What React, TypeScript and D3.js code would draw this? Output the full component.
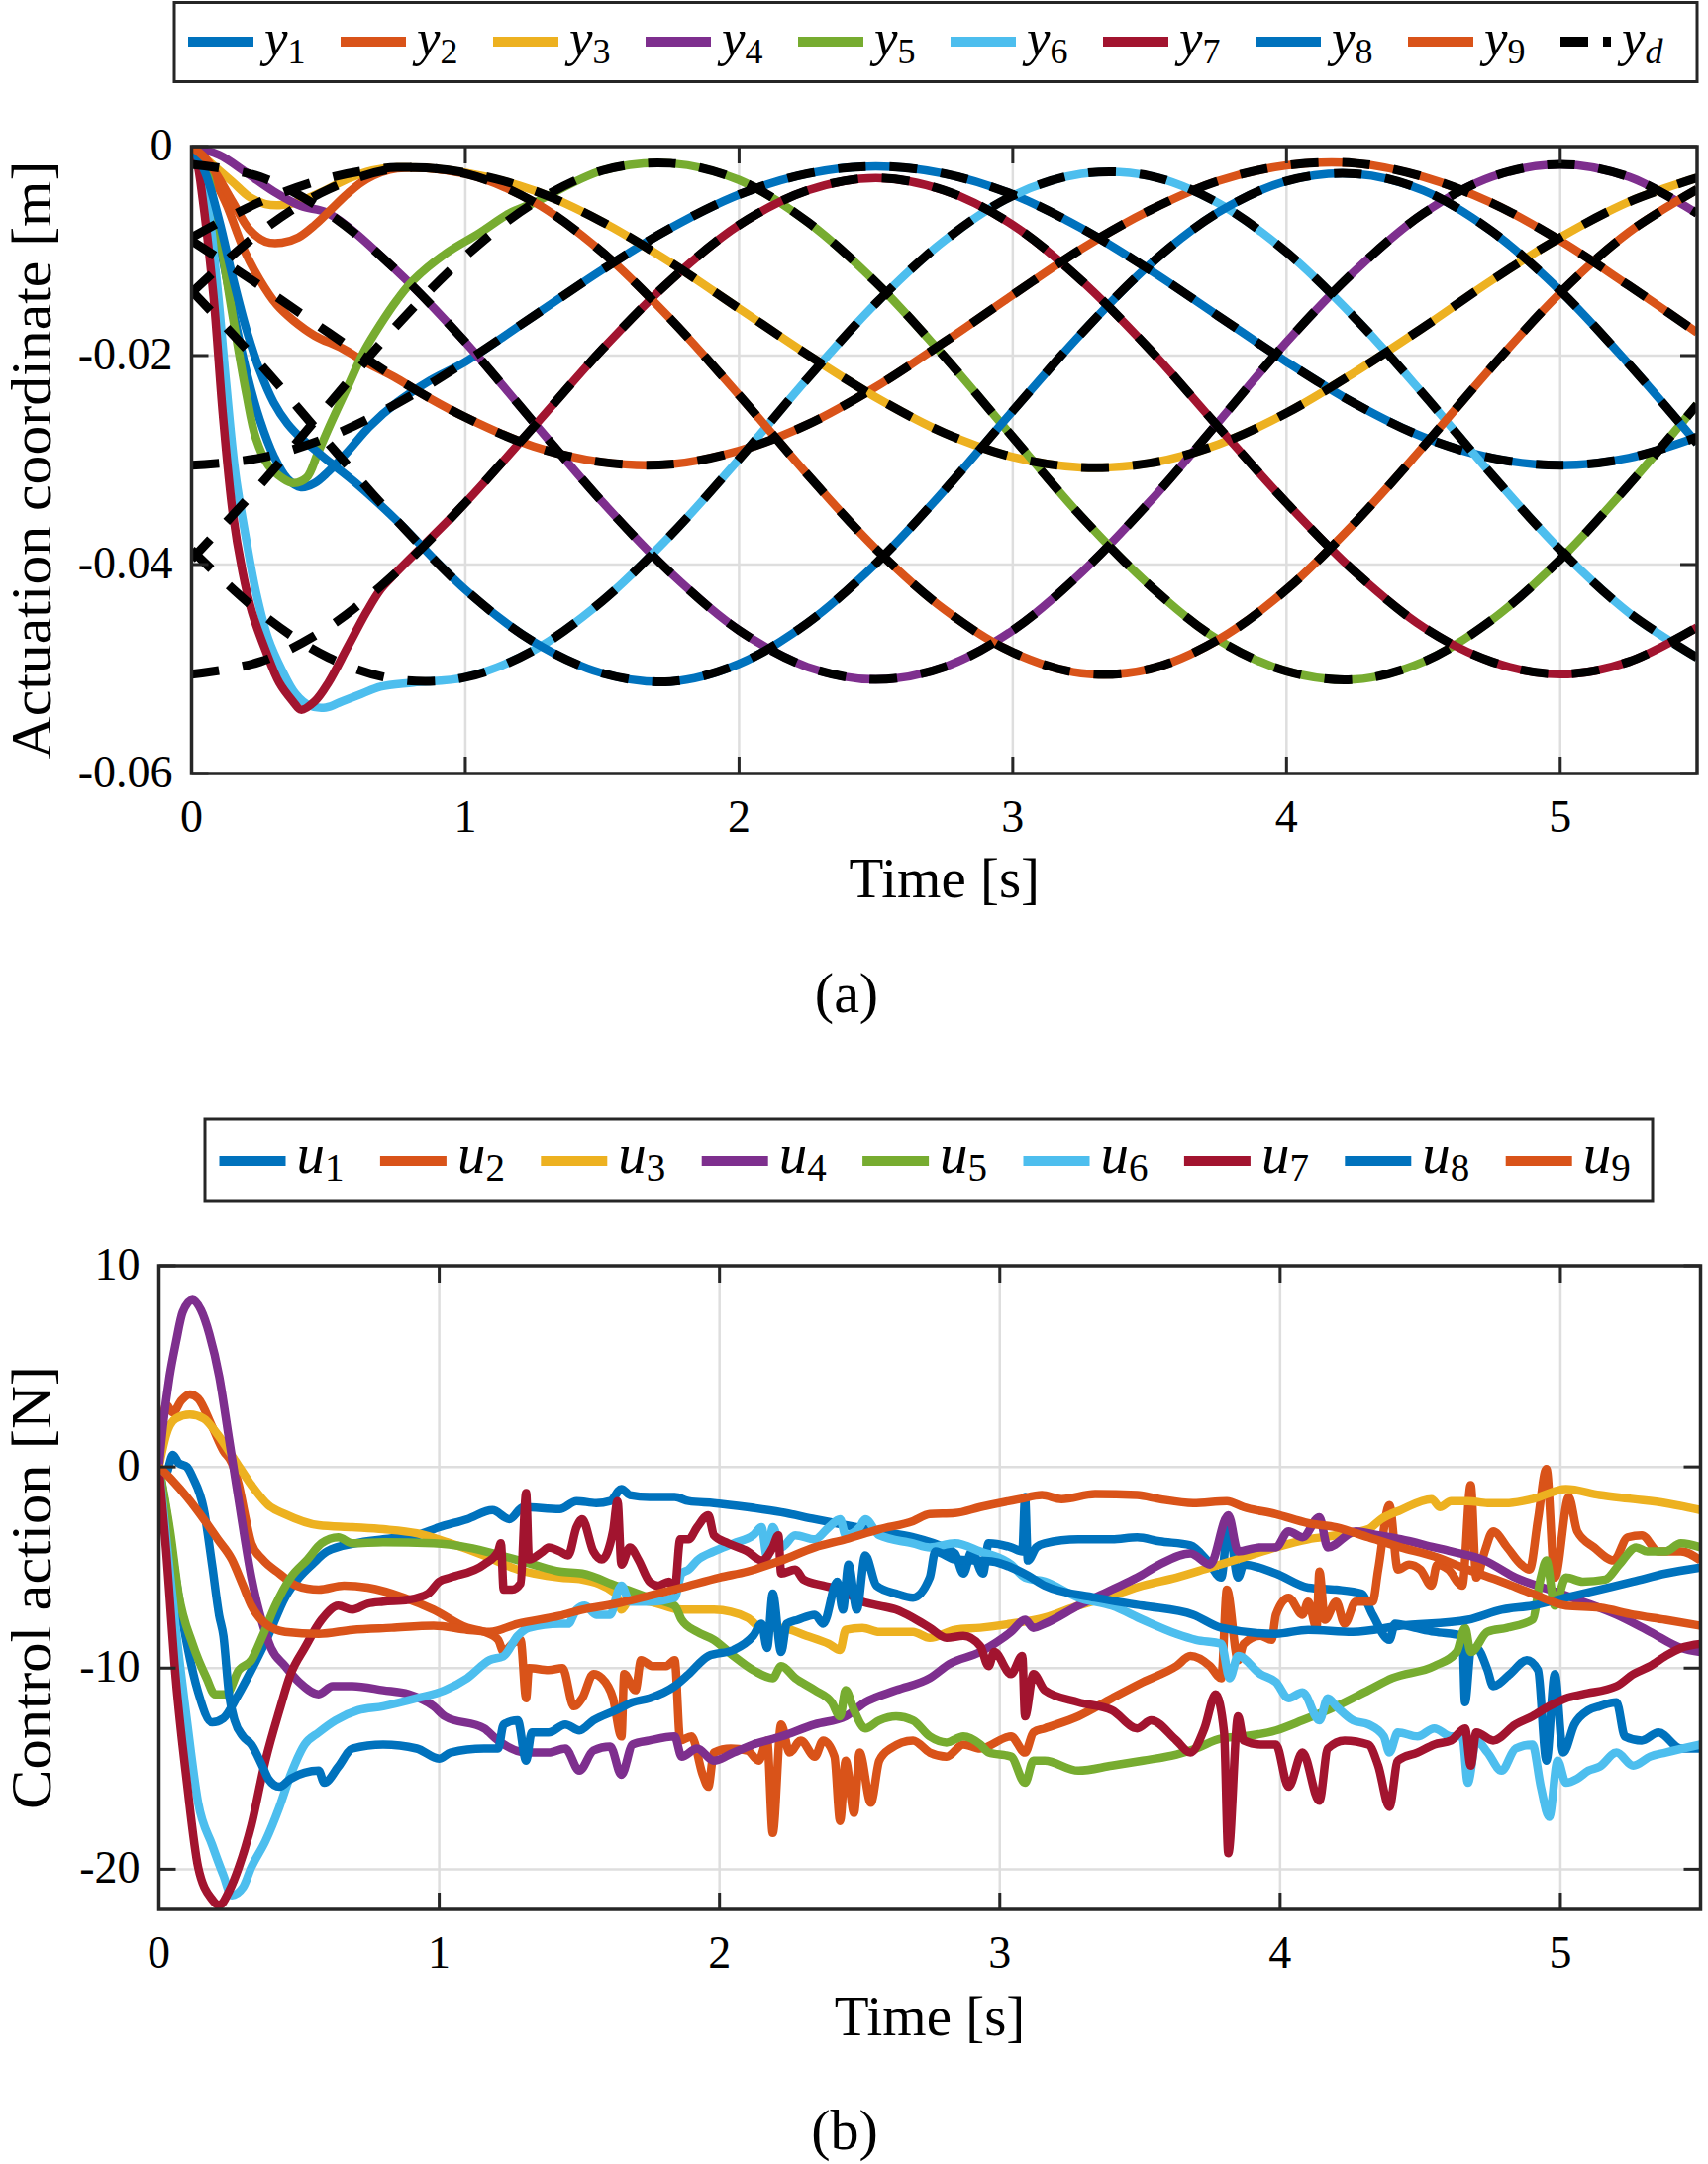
import React from 'react';
import * as d3 from 'd3';

const W = 1725;
const H = 2185;
const FONT = '"Liberation Serif", "Times New Roman", serif';
const AXC = '#262626';
const GRIDC = '#dedede';

const C_BLUE = '#0072BD';
const C_ORANGE = '#D95319';
const C_YELLOW = '#EDB120';
const C_PURPLE = '#7E2F8E';
const C_GREEN = '#77AC30';
const C_CYAN = '#4DBEEE';
const C_CRIMSON = '#A2142F';

// ---------- (a) reference trajectories, sampled every 0.25 s ----------
const timeGrid = [0, 0.25, 0.5, 0.75, 1, 1.25, 1.5, 1.75, 2, 2.25, 2.5, 2.75, 3, 3.25, 3.5, 3.75, 4, 4.25, 4.5, 4.75, 5, 5.25, 5.5];

const yd1 = [-0.0305, -0.0298, -0.0278, -0.0246, -0.0206, -0.0162, -0.0118, -0.0078, -0.0046, -0.0026, -0.0019, -0.0026, -0.0046, -0.0078, -0.0118, -0.0162, -0.0206, -0.0246, -0.0278, -0.0298, -0.0305, -0.0298, -0.0278];
const yd2 = [-0.0090, -0.0133, -0.0178, -0.0222, -0.0259, -0.0287, -0.0302, -0.0304, -0.0291, -0.0266, -0.0230, -0.0187, -0.0142, -0.0098, -0.0061, -0.0033, -0.0018, -0.0016, -0.0029, -0.0054, -0.0090, -0.0133, -0.0178];
const yd3 = [-0.0087, -0.0053, -0.0030, -0.0020, -0.0025, -0.0042, -0.0072, -0.0111, -0.0155, -0.0199, -0.0240, -0.0274, -0.0297, -0.0307, -0.0303, -0.0285, -0.0255, -0.0216, -0.0173, -0.0128, -0.0087, -0.0053, -0.0030];
const yd4 = [-0.0017, -0.0029, -0.0064, -0.0119, -0.0187, -0.0264, -0.0340, -0.0408, -0.0463, -0.0498, -0.0510, -0.0498, -0.0463, -0.0408, -0.0340, -0.0264, -0.0187, -0.0119, -0.0064, -0.0029, -0.0017, -0.0029, -0.0064];
const yd5 = [-0.0395, -0.0324, -0.0247, -0.0171, -0.0105, -0.0054, -0.0023, -0.0016, -0.0032, -0.0072, -0.0130, -0.0201, -0.0278, -0.0354, -0.0420, -0.0472, -0.0502, -0.0510, -0.0493, -0.0453, -0.0395, -0.0324, -0.0247];
const yd6 = [-0.0386, -0.0446, -0.0489, -0.0510, -0.0508, -0.0482, -0.0435, -0.0372, -0.0299, -0.0222, -0.0150, -0.0090, -0.0047, -0.0026, -0.0028, -0.0054, -0.0101, -0.0164, -0.0237, -0.0314, -0.0386, -0.0446, -0.0489];
const yd7 = [-0.0505, -0.0493, -0.0460, -0.0407, -0.0341, -0.0268, -0.0194, -0.0128, -0.0075, -0.0042, -0.0030, -0.0042, -0.0075, -0.0128, -0.0194, -0.0268, -0.0341, -0.0407, -0.0460, -0.0493, -0.0505, -0.0493, -0.0460];
const yd8 = [-0.0138, -0.0208, -0.0284, -0.0358, -0.0424, -0.0474, -0.0504, -0.0512, -0.0495, -0.0456, -0.0399, -0.0329, -0.0253, -0.0179, -0.0113, -0.0063, -0.0033, -0.0026, -0.0042, -0.0081, -0.0138, -0.0208, -0.0284];
const yd9 = [-0.0140, -0.0082, -0.0041, -0.0021, -0.0026, -0.0053, -0.0101, -0.0165, -0.0238, -0.0314, -0.0385, -0.0443, -0.0484, -0.0504, -0.0500, -0.0472, -0.0424, -0.0360, -0.0287, -0.0211, -0.0140, -0.0082, -0.0041];

// ---------- (a) measured coordinates during the initial transient [t, y] ----------
const y1Early: [number, number][] = [[0, 0], [0.05, -0.0035], [0.1, -0.009], [0.15, -0.0155], [0.2, -0.0215], [0.25, -0.0262], [0.3, -0.0296], [0.35, -0.0318], [0.4, -0.0326], [0.45, -0.0322], [0.5, -0.0311], [0.57, -0.0292], [0.65, -0.0268], [0.75, -0.0245], [0.87, -0.0224]];
const y2Early: [number, number][] = [[0, 0], [0.05, -0.0012], [0.1, -0.004], [0.13, -0.0057], [0.19, -0.0098], [0.25, -0.0128], [0.31, -0.0151], [0.37, -0.0166], [0.45, -0.0181], [0.55, -0.0193], [0.64, -0.0207], [0.75, -0.0222], [0.87, -0.0241]];
const y3Early: [number, number][] = [[0, 0], [0.066, -0.0015], [0.15, -0.0034], [0.21, -0.0048], [0.27, -0.0055], [0.33, -0.0056], [0.39, -0.0053], [0.48, -0.0043], [0.57, -0.0031], [0.66, -0.0023]];
const y4Early: [number, number][] = [[0, 0], [0.1, -0.0008], [0.2, -0.0025], [0.3, -0.0043], [0.4, -0.0057]];
const y5Early: [number, number][] = [[0, 0], [0.05, -0.002], [0.09, -0.0068], [0.15, -0.0162], [0.2, -0.0237], [0.235, -0.0279], [0.28, -0.0305], [0.33, -0.0317], [0.37, -0.0322], [0.42, -0.0317], [0.46, -0.0294], [0.51, -0.0264], [0.57, -0.023], [0.63, -0.0196], [0.69, -0.017], [0.75, -0.0147], [0.81, -0.0128], [0.93, -0.0102], [1.05, -0.0083], [1.16, -0.0064]];
const y6Early: [number, number][] = [[0, 0], [0.054, -0.0049], [0.09, -0.0124], [0.126, -0.0226], [0.16, -0.0313], [0.2, -0.0377], [0.235, -0.0426], [0.28, -0.0471], [0.33, -0.0501], [0.38, -0.0524], [0.43, -0.0535], [0.49, -0.0537], [0.55, -0.0531], [0.62, -0.0524], [0.69, -0.0517], [0.81, -0.0513]];
const y7Early: [number, number][] = [[0, 0], [0.02, -0.0015], [0.04, -0.0049], [0.08, -0.0143], [0.114, -0.0256], [0.15, -0.035], [0.186, -0.0407], [0.22, -0.0445], [0.27, -0.0482], [0.32, -0.0513], [0.37, -0.0531], [0.4, -0.0539], [0.45, -0.0531], [0.5, -0.0513], [0.57, -0.0479], [0.64, -0.0445], [0.69, -0.0424]];
const y8Early: [number, number][] = [[0, 0], [0.05, -0.0025], [0.1, -0.007], [0.15, -0.0125], [0.2, -0.0175], [0.25, -0.0215], [0.3, -0.0245], [0.35, -0.0265], [0.4, -0.0279], [0.45, -0.029], [0.5, -0.0301], [0.6, -0.0322]];
const y9Early: [number, number][] = [[0, 0], [0.05, -0.0011], [0.09, -0.0026], [0.15, -0.0053], [0.21, -0.0079], [0.27, -0.0091], [0.33, -0.0092], [0.39, -0.0087], [0.45, -0.0075], [0.51, -0.006], [0.57, -0.0045], [0.64, -0.0031]];

// ---------- (b) control actions [t, u] ----------
const u1: [number, number][] = [[0, 0], [0.03, -2.5], [0.06, -5.5], [0.1, -8.8], [0.14, -11.2], [0.19, -12.7], [0.23, -12.5], [0.28, -11.4], [0.33, -10.1], [0.39, -8.4], [0.45, -6.5], [0.5, -5.5], [0.55, -4.8], [0.6, -4.2], [0.7, -3.8], [0.8, -3.6], [0.92, -3.4], [1.0, -3.0], [1.1, -2.6], [1.19, -2.15], [1.25, -2.6], [1.3, -2.0], [1.43, -2.1], [1.49, -1.7], [1.56, -1.8], [1.61, -1.7], [1.65, -1.1], [1.68, -1.4], [1.75, -1.5], [1.84, -1.5], [1.89, -1.7], [1.98, -1.8], [2.1, -2.0], [2.22, -2.25], [2.34, -2.6], [2.45, -2.9], [2.57, -3.2], [2.69, -3.5], [2.8, -4.0], [2.84, -4.3], [2.87, -5.3], [2.9, -4.2], [2.94, -5.3], [2.96, -3.8], [3.04, -4.0], [3.08, -4.2], [3.09, -1.5], [3.1, -4.65], [3.13, -4.0], [3.16, -3.8], [3.28, -3.6], [3.4, -3.6], [3.49, -3.5], [3.57, -3.7], [3.68, -3.9], [3.74, -4.65], [3.79, -5.5], [3.815, -2.8], [3.85, -5.5], [3.87, -4.85], [3.985, -5.3], [4.1, -6.0], [4.2, -6.1], [4.29, -6.3], [4.33, -7.35], [4.39, -8.6], [4.41, -7.8], [4.48, -8.0], [4.55, -8.2], [4.65, -8.4], [4.66, -11.7], [4.68, -9.2], [4.7, -9.0], [4.74, -10.1], [4.76, -10.9], [4.82, -10.3], [4.88, -9.6], [4.92, -10.1], [4.95, -14.6], [4.98, -10.3], [5.01, -14.2], [5.05, -12.8], [5.1, -12.1], [5.14, -11.9], [5.2, -11.7], [5.23, -13.4], [5.29, -13.6], [5.35, -13.2], [5.43, -14.0], [5.5, -14.0]];
const u2: [number, number][] = [[0, 0], [0.026, 3.1], [0.05, 2.7], [0.08, 3.3], [0.11, 3.6], [0.14, 3.4], [0.19, 2.0], [0.23, 0.8], [0.26, 0.2], [0.285, -0.9], [0.31, -2.6], [0.33, -3.8], [0.37, -4.6], [0.43, -5.3], [0.49, -5.9], [0.57, -6.1], [0.66, -5.9], [0.745, -6.0], [0.875, -6.5], [0.98, -7.1], [1.1, -8.0], [1.16, -8.2], [1.21, -8.6], [1.23, -9.2], [1.26, -8.8], [1.29, -8.6], [1.31, -11.5], [1.32, -10.0], [1.39, -10.1], [1.44, -10.0], [1.48, -11.9], [1.51, -11.5], [1.55, -10.3], [1.58, -10.5], [1.62, -11.5], [1.65, -13.4], [1.66, -10.3], [1.7, -11.1], [1.72, -9.6], [1.76, -9.9], [1.81, -9.9], [1.84, -9.6], [1.86, -13.6], [1.9, -13.4], [1.94, -15.3], [1.96, -15.9], [1.98, -14.2], [2.04, -14.0], [2.1, -14.1], [2.14, -14.6], [2.17, -13.6], [2.19, -18.2], [2.22, -12.8], [2.25, -14.2], [2.29, -13.6], [2.34, -14.4], [2.37, -13.6], [2.41, -14.4], [2.43, -17.6], [2.45, -14.6], [2.48, -17.2], [2.5, -14.2], [2.54, -16.7], [2.57, -14.6], [2.61, -14.0], [2.69, -13.6], [2.75, -14.2], [2.81, -14.4], [2.87, -13.8], [2.93, -14.0], [3.04, -13.4], [3.09, -14.2], [3.12, -13.2], [3.16, -13.0], [3.28, -12.4], [3.4, -11.5], [3.51, -10.7], [3.63, -9.9], [3.68, -9.4], [3.75, -9.9], [3.79, -10.5], [3.81, -6.1], [3.85, -9.6], [3.87, -8.8], [3.93, -8.4], [3.97, -8.6], [3.985, -7.35], [4.03, -6.5], [4.08, -7.35], [4.1, -6.7], [4.13, -8.0], [4.14, -5.2], [4.16, -7.6], [4.2, -6.7], [4.23, -7.8], [4.27, -6.7], [4.33, -6.7], [4.35, -5.1], [4.39, -1.9], [4.42, -5.1], [4.46, -4.85], [4.5, -5.1], [4.54, -5.9], [4.56, -4.85], [4.6, -5.1], [4.65, -5.9], [4.68, -0.9], [4.7, -5.5], [4.73, -4.2], [4.76, -3.2], [4.81, -4.0], [4.86, -4.85], [4.89, -5.1], [4.92, -2.6], [4.95, -0.1], [4.98, -5.5], [5.03, -1.5], [5.06, -3.2], [5.12, -4.0], [5.19, -4.65], [5.24, -3.5], [5.29, -3.4], [5.35, -4.2], [5.43, -4.2], [5.5, -4.65]];
const u3: [number, number][] = [[0, 0], [0.026, 1.6], [0.06, 2.4], [0.11, 2.6], [0.16, 2.4], [0.21, 1.6], [0.27, 0.35], [0.33, -0.9], [0.39, -1.9], [0.45, -2.35], [0.57, -2.9], [0.69, -3.0], [0.8, -3.1], [0.92, -3.3], [1.04, -3.8], [1.16, -4.4], [1.28, -5.1], [1.43, -5.5], [1.51, -5.6], [1.63, -6.3], [1.65, -7.1], [1.68, -6.6], [1.75, -6.7], [1.865, -7.1], [1.98, -7.1], [2.1, -7.5], [2.15, -8.0], [2.22, -8.0], [2.31, -8.4], [2.39, -8.8], [2.43, -9.1], [2.45, -8.1], [2.51, -8.0], [2.57, -8.2], [2.69, -8.2], [2.75, -8.5], [2.84, -8.1], [2.93, -8.0], [3.04, -7.8], [3.16, -7.5], [3.28, -6.9], [3.4, -6.4], [3.51, -5.9], [3.63, -5.5], [3.75, -5.0], [3.87, -4.5], [3.985, -4.0], [4.1, -3.6], [4.2, -3.4], [4.315, -3.1], [4.36, -2.6], [4.43, -2.15], [4.54, -1.6], [4.57, -2.0], [4.61, -1.7], [4.67, -1.7], [4.74, -1.8], [4.81, -1.8], [4.9, -1.6], [5.02, -1.1], [5.14, -1.4], [5.26, -1.6], [5.375, -1.8], [5.5, -2.15]];
const u4: [number, number][] = [[0, 0], [0.014, 2.0], [0.038, 4.5], [0.061, 6.2], [0.085, 7.7], [0.12, 8.3], [0.15, 7.8], [0.18, 6.6], [0.215, 4.5], [0.25, 1.4], [0.285, -1.7], [0.33, -5.5], [0.37, -7.8], [0.4, -9.0], [0.45, -9.9], [0.5, -10.7], [0.57, -11.3], [0.62, -10.9], [0.69, -10.9], [0.8, -11.1], [0.89, -11.3], [0.98, -11.9], [1.02, -12.4], [1.16, -13.0], [1.21, -13.6], [1.31, -14.2], [1.39, -14.2], [1.45, -14.0], [1.5, -15.1], [1.55, -14.1], [1.61, -13.9], [1.65, -15.3], [1.69, -13.8], [1.75, -13.6], [1.84, -13.4], [1.865, -14.4], [1.92, -14.0], [1.98, -14.6], [2.05, -14.2], [2.12, -13.8], [2.22, -13.4], [2.34, -12.8], [2.45, -12.4], [2.52, -11.7], [2.63, -11.1], [2.75, -10.5], [2.82, -9.8], [2.93, -9.2], [3.04, -8.2], [3.09, -7.6], [3.12, -8.0], [3.16, -7.8], [3.28, -6.9], [3.4, -6.1], [3.49, -5.5], [3.57, -4.85], [3.68, -4.3], [3.75, -4.85], [3.815, -2.4], [3.85, -4.2], [3.93, -4.0], [3.985, -4.0], [4.03, -3.2], [4.08, -3.5], [4.14, -2.5], [4.17, -4.0], [4.27, -3.2], [4.35, -3.4], [4.43, -3.6], [4.55, -4.0], [4.61, -4.2], [4.73, -4.65], [4.84, -5.5], [4.96, -6.1], [5.08, -6.7], [5.2, -7.35], [5.32, -8.2], [5.43, -9.0], [5.5, -9.2]];
const u5: [number, number][] = [[0, 0], [0.04, -3.2], [0.07, -6.3], [0.12, -8.8], [0.17, -10.5], [0.2, -11.3], [0.24, -11.3], [0.285, -10.1], [0.33, -9.6], [0.37, -8.4], [0.415, -6.9], [0.47, -5.5], [0.53, -4.6], [0.58, -3.8], [0.64, -3.5], [0.69, -3.8], [0.8, -3.75], [0.98, -3.8], [1.1, -4.0], [1.22, -4.4], [1.335, -4.85], [1.43, -5.2], [1.51, -5.3], [1.63, -5.9], [1.747, -6.5], [1.84, -6.9], [1.865, -7.6], [1.92, -8.2], [1.98, -8.6], [2.05, -9.4], [2.12, -10.1], [2.19, -10.5], [2.22, -9.9], [2.27, -10.5], [2.34, -11.1], [2.4, -11.7], [2.43, -12.4], [2.45, -11.1], [2.48, -12.1], [2.52, -13.0], [2.57, -12.6], [2.63, -12.4], [2.69, -12.6], [2.75, -13.4], [2.81, -13.7], [2.87, -13.4], [2.93, -13.8], [2.96, -14.2], [3.04, -14.4], [3.09, -15.7], [3.12, -14.6], [3.16, -14.6], [3.28, -15.1], [3.4, -14.85], [3.51, -14.6], [3.63, -14.3], [3.7, -14.0], [3.79, -13.5], [3.87, -13.4], [3.985, -13.1], [4.08, -12.6], [4.2, -11.9], [4.315, -11.1], [4.4, -10.5], [4.55, -9.9], [4.63, -9.2], [4.66, -8.0], [4.68, -9.2], [4.74, -8.2], [4.81, -8.0], [4.9, -7.6], [4.93, -5.5], [4.95, -4.65], [4.98, -6.9], [5.02, -5.5], [5.08, -5.7], [5.16, -5.6], [5.21, -4.85], [5.27, -4.0], [5.31, -4.2], [5.375, -4.2], [5.43, -3.8], [5.5, -4.0]];
const u6: [number, number][] = [[0, 0], [0.03, -4.0], [0.06, -8.0], [0.1, -12.6], [0.14, -16.7], [0.19, -18.8], [0.23, -20.3], [0.26, -21.3], [0.3, -20.9], [0.33, -19.9], [0.38, -18.6], [0.43, -16.9], [0.47, -15.3], [0.52, -13.8], [0.57, -13.2], [0.63, -12.6], [0.71, -12.1], [0.8, -11.9], [0.92, -11.5], [1.02, -11.1], [1.1, -10.5], [1.18, -9.6], [1.23, -9.4], [1.28, -8.4], [1.32, -8.0], [1.43, -7.8], [1.46, -7.8], [1.49, -7.1], [1.52, -6.9], [1.56, -7.35], [1.61, -7.35], [1.64, -6.1], [1.65, -5.9], [1.68, -6.7], [1.747, -6.7], [1.84, -6.5], [1.865, -5.3], [1.89, -5.1], [1.92, -4.65], [1.98, -4.2], [2.05, -3.8], [2.12, -3.4], [2.15, -3.0], [2.17, -4.5], [2.19, -3.0], [2.22, -4.0], [2.27, -3.4], [2.34, -3.6], [2.39, -3.0], [2.43, -2.6], [2.45, -3.4], [2.5, -3.0], [2.52, -2.6], [2.57, -3.4], [2.69, -3.8], [2.75, -4.0], [2.84, -3.8], [2.93, -4.2], [3.04, -4.85], [3.09, -5.5], [3.16, -5.7], [3.28, -6.5], [3.4, -6.9], [3.51, -7.6], [3.63, -8.3], [3.7, -8.6], [3.79, -8.8], [3.82, -10.5], [3.85, -9.4], [3.93, -10.3], [3.985, -10.7], [4.03, -11.5], [4.08, -11.2], [4.14, -12.6], [4.17, -11.5], [4.2, -11.9], [4.26, -12.6], [4.315, -12.8], [4.37, -13.4], [4.39, -14.2], [4.42, -13.2], [4.49, -13.4], [4.55, -13.0], [4.61, -13.4], [4.65, -13.4], [4.67, -15.7], [4.7, -13.6], [4.74, -14.2], [4.79, -15.1], [4.84, -14.0], [4.9, -13.8], [4.93, -15.9], [4.96, -17.4], [4.99, -14.6], [5.02, -15.7], [5.06, -15.5], [5.1, -15.1], [5.14, -14.9], [5.2, -14.2], [5.26, -14.85], [5.32, -14.4], [5.375, -14.2], [5.5, -13.8]];
const u7: [number, number][] = [[0, 0], [0.026, -4.2], [0.06, -10.5], [0.1, -15.7], [0.14, -19.9], [0.19, -21.5], [0.215, -21.8], [0.25, -21.1], [0.285, -19.9], [0.33, -17.8], [0.38, -14.6], [0.43, -12.1], [0.47, -10.3], [0.52, -9.0], [0.58, -7.6], [0.64, -6.9], [0.69, -7.1], [0.745, -6.8], [0.8, -6.7], [0.89, -6.6], [0.96, -6.3], [1.0, -5.7], [1.04, -5.5], [1.16, -4.85], [1.21, -4.2], [1.22, -3.8], [1.23, -6.1], [1.26, -6.1], [1.29, -5.8], [1.31, -1.3], [1.32, -4.6], [1.37, -4.2], [1.39, -4.0], [1.43, -4.2], [1.46, -4.4], [1.49, -3.0], [1.51, -2.6], [1.55, -4.2], [1.58, -4.6], [1.62, -3.2], [1.636, -1.7], [1.65, -4.85], [1.68, -4.0], [1.71, -4.6], [1.75, -5.7], [1.78, -5.9], [1.82, -5.7], [1.84, -6.1], [1.86, -3.6], [1.89, -3.6], [1.92, -3.0], [1.96, -2.4], [1.98, -3.4], [2.03, -3.8], [2.1, -4.2], [2.15, -4.65], [2.19, -4.0], [2.21, -3.4], [2.22, -5.3], [2.27, -5.1], [2.3, -5.6], [2.37, -5.9], [2.43, -6.1], [2.51, -6.7], [2.57, -6.9], [2.63, -7.1], [2.69, -7.5], [2.75, -8.0], [2.81, -8.5], [2.87, -8.4], [2.93, -8.9], [2.96, -9.9], [2.98, -9.2], [3.04, -10.3], [3.08, -9.4], [3.09, -12.4], [3.12, -10.3], [3.16, -11.1], [3.28, -11.7], [3.4, -12.1], [3.49, -13.0], [3.54, -12.6], [3.63, -13.6], [3.68, -14.2], [3.73, -13.0], [3.77, -11.3], [3.8, -13.2], [3.815, -19.2], [3.85, -12.4], [3.87, -13.6], [3.93, -13.8], [3.985, -13.8], [4.03, -15.9], [4.08, -14.2], [4.14, -16.6], [4.17, -14.0], [4.23, -13.6], [4.315, -13.8], [4.35, -14.85], [4.39, -16.9], [4.42, -14.6], [4.49, -14.2], [4.55, -13.8], [4.61, -13.6], [4.66, -13.0], [4.68, -14.85], [4.7, -13.2], [4.76, -13.6], [4.84, -12.8], [4.9, -12.4], [4.96, -11.9], [5.02, -11.5], [5.08, -11.3], [5.2, -10.9], [5.26, -10.3], [5.32, -9.9], [5.375, -9.4], [5.43, -9.0], [5.5, -8.8]];
const u8: [number, number][] = [[0, 0], [0.026, -0.3], [0.05, 0.6], [0.07, 0.2], [0.1, 0], [0.12, -0.5], [0.16, -2.1], [0.19, -4.9], [0.215, -7.4], [0.23, -8.4], [0.25, -11.3], [0.27, -12.6], [0.3, -13.4], [0.33, -13.8], [0.37, -14.9], [0.39, -15.5], [0.43, -15.9], [0.47, -15.5], [0.57, -15.1], [0.59, -15.7], [0.64, -14.9], [0.69, -14.0], [0.8, -13.8], [0.92, -14.0], [1.0, -14.5], [1.04, -14.2], [1.16, -14.0], [1.21, -14.0], [1.23, -12.8], [1.28, -12.6], [1.31, -14.6], [1.33, -13.2], [1.39, -13.2], [1.45, -12.8], [1.5, -13.1], [1.55, -12.6], [1.63, -12.1], [1.69, -11.7], [1.75, -11.5], [1.84, -10.9], [1.89, -10.3], [1.96, -9.4], [2.05, -9.1], [2.12, -8.4], [2.15, -7.8], [2.17, -9.0], [2.19, -6.3], [2.22, -9.2], [2.24, -7.8], [2.28, -7.6], [2.34, -7.35], [2.37, -7.8], [2.42, -5.7], [2.44, -7.1], [2.46, -4.85], [2.49, -7.1], [2.52, -4.4], [2.56, -5.9], [2.63, -6.3], [2.69, -6.5], [2.75, -5.5], [2.77, -4.2], [2.84, -4.6], [2.97, -4.7], [3.1, -5.4], [3.16, -5.9], [3.34, -6.5], [3.51, -6.9], [3.69, -7.35], [3.79, -8.0], [3.985, -8.3], [4.1, -8.1], [4.26, -8.2], [4.43, -7.9], [4.67, -7.6], [4.79, -7.1], [4.9, -6.9], [5.02, -6.5], [5.14, -6.1], [5.26, -5.7], [5.375, -5.3], [5.5, -5.0]];
const u9: [number, number][] = [[0, 0], [0.05, -0.7], [0.1, -1.5], [0.16, -2.6], [0.21, -3.6], [0.26, -4.6], [0.3, -5.9], [0.33, -6.9], [0.38, -7.8], [0.45, -8.2], [0.57, -8.3], [0.69, -8.1], [0.83, -8.0], [0.98, -7.9], [1.1, -8.1], [1.18, -8.2], [1.28, -7.8], [1.43, -7.4], [1.51, -7.1], [1.63, -6.8], [1.75, -6.4], [1.865, -6.0], [2.0, -5.5], [2.1, -5.2], [2.22, -4.65], [2.34, -4.0], [2.45, -3.6], [2.57, -3.1], [2.69, -2.7], [2.75, -2.35], [2.84, -2.3], [2.93, -2.0], [3.07, -1.6], [3.15, -1.4], [3.22, -1.6], [3.34, -1.35], [3.49, -1.4], [3.57, -1.6], [3.69, -1.8], [3.81, -1.7], [3.87, -2.0], [3.985, -2.35], [4.1, -2.8], [4.2, -3.0], [4.315, -3.5], [4.43, -4.0], [4.55, -4.45], [4.67, -5.1], [4.79, -5.7], [4.9, -6.3], [5.02, -6.9], [5.14, -7.0], [5.26, -7.35], [5.375, -7.6], [5.5, -7.9]];

// ---------- ticks ----------
const timeTicks = [0, 1, 2, 3, 4, 5];
const topYTicks = [-0.06, -0.04, -0.02, 0];
const topYTickLabels = ['-0.06', '-0.04', '-0.02', '0'];
const botYTicks = [-20, -10, 0, 10];
const botYTickLabels = ['-20', '-10', '0', '10'];

const seriesColors = [C_BLUE, C_ORANGE, C_YELLOW, C_PURPLE, C_GREEN, C_CYAN, C_CRIMSON, C_BLUE, C_ORANGE];
const ydAll = [yd1, yd2, yd3, yd4, yd5, yd6, yd7, yd8, yd9];
const yEarlyAll = [y1Early, y2Early, y3Early, y4Early, y5Early, y6Early, y7Early, y8Early, y9Early];
const uAll = [u1, u2, u3, u4, u5, u6, u7, u8, u9];

// ---------- layout ----------
const TOP = { l: 193.5, r: 1714, t: 148, b: 781 };
const BOT = { l: 160.5, r: 1717.5, t: 1278, b: 1928 };

const xTop = d3.scaleLinear().domain([0, 5.5]).range([TOP.l, TOP.r]);
const yTop = d3.scaleLinear().domain([-0.06, 0]).range([TOP.b, TOP.t]);
const xBot = d3.scaleLinear().domain([0, 5.5]).range([BOT.l, BOT.r]);
const yBot = d3.scaleLinear().domain([-22, 10]).range([BOT.b, BOT.t]);

const LW = 8.5;
const LW_DASH = 9;
const LW_LEG = 10;
const TICK = 17;

function refPoints(vals: number[]): [number, number][] {
  return timeGrid.map((t, i) => [t, vals[i]] as [number, number]);
}

function trackedPoints(early: [number, number][], vals: number[]): [number, number][] {
  const last = early[early.length - 1][0];
  return early.concat(refPoints(vals).filter((p) => p[0] > last + 0.05));
}

function Grid({ box, xs, ys, yTicks }: any) {
  const els: any[] = [];
  timeTicks.forEach((t) => {
    if (t > 0) els.push(<line key={'gx' + t} x1={xs(t)} x2={xs(t)} y1={box.t} y2={box.b} stroke={GRIDC} strokeWidth={2.5} />);
  });
  yTicks.forEach((v: number) => {
    const y = ys(v);
    if (y > box.t + 1 && y < box.b - 1) els.push(<line key={'gy' + v} x1={box.l} x2={box.r} y1={y} y2={y} stroke={GRIDC} strokeWidth={2.5} />);
  });
  return <g>{els}</g>;
}

function Frame({ box, xs, ys, yTicks, yLabels }: any) {
  const els: any[] = [];
  timeTicks.forEach((t) => {
    const x = xs(t);
    els.push(<line key={'tb' + t} x1={x} x2={x} y1={box.b} y2={box.b - TICK} stroke={AXC} strokeWidth={3} />);
    els.push(<line key={'tt' + t} x1={x} x2={x} y1={box.t} y2={box.t + TICK} stroke={AXC} strokeWidth={3} />);
    els.push(
      <text key={'lx' + t} x={x} y={box.b + 59} fontSize={46} textAnchor="middle" fontFamily={FONT} fill="#000">
        {String(t)}
      </text>
    );
  });
  yTicks.forEach((v: number, i: number) => {
    const y = ys(v);
    els.push(<line key={'tl' + v} x1={box.l} x2={box.l + TICK} y1={y} y2={y} stroke={AXC} strokeWidth={3} />);
    els.push(<line key={'tr' + v} x1={box.r} x2={box.r - TICK} y1={y} y2={y} stroke={AXC} strokeWidth={3} />);
    els.push(
      <text key={'ly' + v} x={box.l - 19} y={y + 14} fontSize={46} textAnchor="end" fontFamily={FONT} fill="#000">
        {yLabels[i]}
      </text>
    );
  });
  els.push(<rect key="box" x={box.l} y={box.t} width={box.r - box.l} height={box.b - box.t} fill="none" stroke={AXC} strokeWidth={3.5} />);
  return <g>{els}</g>;
}

function LegendEntry({ x0, y0, len, color, dashed, letter, sub, subItalic, fs, sfs, base }: any) {
  return (
    <g>
      <line x1={x0} x2={x0 + len} y1={y0} y2={y0} stroke={color} strokeWidth={LW_LEG} strokeDasharray={dashed ? '28 15' : undefined} />
      <text x={x0 + len + 11} y={base} fontFamily={FONT} fontSize={fs} fill="#000">
        <tspan fontStyle="italic">{letter}</tspan>
        <tspan fontSize={sfs} dy={8} fontStyle={subItalic ? 'italic' : 'normal'}>{sub}</tspan>
      </text>
    </g>
  );
}

export default function App() {
  const lineTop = d3
    .line<[number, number]>()
    .x((d) => xTop(d[0]))
    .y((d) => yTop(d[1]))
    .curve(d3.curveCatmullRom.alpha(0.5));
  const lineBot = d3
    .line<[number, number]>()
    .x((d) => xBot(d[0]))
    .y((d) => yBot(d[1]))
    .curve(d3.curveMonotoneX);

  return (
    <svg width={W} height={H} viewBox={`0 0 ${W} ${H}`} style={{ position: 'absolute', left: 0, top: 0, background: '#fff' }}>
      <rect x={0} y={0} width={W} height={H} fill="#fff" />
      <defs>
        <clipPath id="clipTop">
          <rect x={TOP.l} y={TOP.t} width={TOP.r - TOP.l} height={TOP.b - TOP.t} />
        </clipPath>
        <clipPath id="clipBot">
          <rect x={BOT.l} y={BOT.t} width={BOT.r - BOT.l} height={BOT.b - BOT.t} />
        </clipPath>
      </defs>

      {/* ---------------- (a) ---------------- */}
      <Grid box={TOP} xs={xTop} ys={yTop} yTicks={topYTicks} />
      <g clipPath="url(#clipTop)" fill="none" strokeLinejoin="round">
        {yEarlyAll.map((early, i) => (
          <path key={'y' + i} d={lineTop(trackedPoints(early, ydAll[i])) || ''} stroke={seriesColors[i]} strokeWidth={LW} />
        ))}
        {ydAll.map((vals, i) => (
          <path key={'yd' + i} d={lineTop(refPoints(vals)) || ''} stroke="#000" strokeWidth={LW_DASH} strokeDasharray="28 24" />
        ))}
      </g>
      <Frame box={TOP} xs={xTop} ys={yTop} yTicks={topYTicks} yLabels={topYTickLabels} />
      <text x={(TOP.l + TOP.r) / 2} y={906} fontSize={57} textAnchor="middle" fontFamily={FONT}>Time [s]</text>
      <text
        transform={`translate(51,${(TOP.t + TOP.b) / 2}) rotate(-90)`}
        fontSize={56}
        textAnchor="middle"
        fontFamily={FONT}
        textLength={604}
        lengthAdjust="spacingAndGlyphs"
      >
        Actuation coordinate [m]
      </text>
      <text x={855} y={1022} fontSize={58} textAnchor="middle" fontFamily={FONT}>(a)</text>

      {/* legend (a) */}
      <rect x={176} y={2.5} width={1538} height={80} fill="#fff" stroke={AXC} strokeWidth={3} />
      {seriesColors.map((c, i) => (
        <LegendEntry key={'ly' + i} x0={190 + 154 * i} y0={42} len={66} color={c} letter="y" sub={String(i + 1)} fs={53} sfs={36} base={56} />
      ))}
      <LegendEntry x0={190 + 154 * 9} y0={42} len={51} color="#000" dashed letter="y" sub="d" subItalic fs={53} sfs={36} base={56} />

      {/* ---------------- (b) ---------------- */}
      <Grid box={BOT} xs={xBot} ys={yBot} yTicks={botYTicks} />
      <g clipPath="url(#clipBot)" fill="none" strokeLinejoin="round">
        {uAll.map((pts, i) => (
          <path key={'u' + i} d={lineBot(pts) || ''} stroke={seriesColors[i]} strokeWidth={LW} />
        ))}
      </g>
      <Frame box={BOT} xs={xBot} ys={yBot} yTicks={botYTicks} yLabels={botYTickLabels} />
      <text x={(BOT.l + BOT.r) / 2} y={2055} fontSize={57} textAnchor="middle" fontFamily={FONT}>Time [s]</text>
      <text
        transform={`translate(51,${(BOT.t + BOT.b) / 2}) rotate(-90)`}
        fontSize={56}
        textAnchor="middle"
        fontFamily={FONT}
        textLength={448}
        lengthAdjust="spacingAndGlyphs"
      >
        Control action [N]
      </text>
      <text x={853} y={2170} fontSize={58} textAnchor="middle" fontFamily={FONT}>(b)</text>

      {/* legend (b) */}
      <rect x={207} y={1130} width={1462} height={83} fill="#fff" stroke={AXC} strokeWidth={3} />
      {seriesColors.map((c, i) => (
        <LegendEntry key={'lu' + i} x0={221.5 + 162.4 * i} y0={1172} len={67} color={c} letter="u" sub={String(i + 1)} fs={57} sfs={39} base={1184} />
      ))}
    </svg>
  );
}
